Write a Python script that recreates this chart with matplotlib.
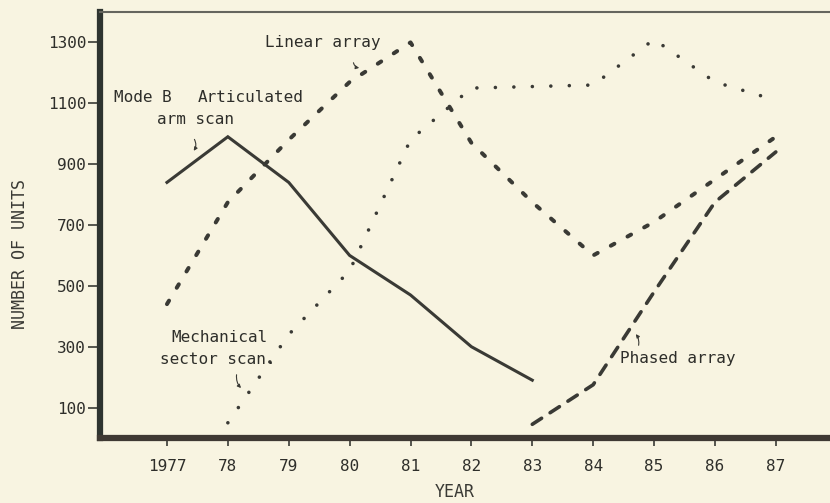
import matplotlib
matplotlib.use("Agg")
import matplotlib.pyplot as plt

# ---------------- data ----------------
years = [1977, 1978, 1979, 1980, 1981, 1982, 1983, 1984, 1985, 1986, 1987]
tick_labels = ["1977", "78", "79", "80", "81", "82", "83", "84", "85", "86", "87"]
y_ticks = [100, 300, 500, 700, 900, 1100, 1300]

modeb_years = [1977, 1978, 1979, 1980, 1981, 1982, 1983]
modeb_units = [840, 990, 840, 600, 470, 300, 190]

linear_years = [1977, 1978, 1979, 1980, 1981, 1982, 1983, 1984, 1985, 1986, 1987]
linear_units = [440, 775, 980, 1170, 1300, 970, 775, 600, 710, 850, 990]

mech_years = [1978, 1979, 1980, 1981, 1982, 1983, 1984, 1985, 1986, 1987]
mech_units = [50, 340, 550, 980, 1150, 1155, 1160, 1310, 1170, 1110]

phased_years = [1983, 1984, 1985, 1986, 1987]
phased_units = [45, 175, 480, 775, 940]

# ---------------- style ----------------
plt.rcParams["lines.scale_dashes"] = False
FONT = "DejaVu Sans Mono"
bg = "#f8f4e1"
ink = "#3a3a35"

W, H = 830, 503
fig = plt.figure(figsize=(W / 100, H / 100), dpi=100)
fig.patch.set_facecolor(bg)
ax = fig.add_axes([100 / W, 65 / H, 730 / W, 426 / H])
ax.set_facecolor(bg)
ax.set_xlim(1975.9, 1987.89)
ax.set_ylim(0, 1400)

ax.plot(modeb_years, modeb_units, color=ink, lw=2.2, solid_joinstyle="miter")
ax.plot(linear_years, linear_units, color=ink, lw=2.9,
        linestyle=(0, (2.9, 10.8)), dash_capstyle="round")
ax.plot(mech_years, mech_units, color=ink, lw=2.6,
        linestyle=(0, (0.01, 13.3)), dash_capstyle="round")
ax.plot(phased_years, phased_units, color=ink, lw=2.6,
        linestyle=(0, (8.0, 7.3)), dash_capstyle="round")

# ticks
ax.set_xticks(years)
ax.set_xticklabels(tick_labels, fontfamily=FONT, fontsize=11.5, color="#2e2e2a")
ax.set_yticks(y_ticks)
ax.set_yticklabels([str(v) for v in y_ticks], fontfamily=FONT, fontsize=11.5,
                   color="#2e2e2a")
ax.tick_params(axis="y", direction="out", length=9, width=1.2, pad=1, colors=ink,
               labelcolor="#2e2e2a")
ax.tick_params(axis="x", direction="out", length=6, width=1.2, pad=9, colors=ink,
               labelcolor="#2e2e2a")

ax.spines["right"].set_visible(False)
ax.spines["top"].set_linewidth(1.5)
ax.spines["top"].set_color("#65655e")
ax.spines["left"].set_linewidth(4.5)
ax.spines["left"].set_color("#2f3430")
ax.spines["bottom"].set_linewidth(4.5)
ax.spines["bottom"].set_color("#3f3933")

# axis labels
fig.text(20 / W, 1 - 254 / H, "NUMBER OF UNITS", rotation=90, ha="center",
         va="center", fontfamily=FONT, fontsize=12, color="#3a3a35")
fig.text(455 / W, 1 - 492 / H, "YEAR", ha="center", va="center",
         fontfamily=FONT, fontsize=12, color="#3a3a35")


def fp(x, y):
    return (x, H - y)


def label(text, x, y, ha="left"):
    ax.annotate(text, xy=fp(x, y), xycoords="figure pixels", ha=ha, va="center",
                fontfamily=FONT, fontsize=11.5, color="#2e2e2a")


def pointer(x0, y0, x1, y1, rad=0.3):
    ax.annotate("", xy=fp(x1, y1), xycoords="figure pixels",
                xytext=fp(x0, y0), textcoords="figure pixels",
                arrowprops=dict(arrowstyle="-|>", color=ink, lw=0.8,
                                mutation_scale=5,
                                connectionstyle=f"arc3,rad={rad}"))


label("Linear array", 265, 43)
pointer(353, 60, 362, 68, rad=0.5)
label("Mode B", 114, 98)
label("Articulated", 198, 98)
label("arm scan", 157, 119)
pointer(193, 137, 192, 153, rad=-0.4)
label("Mechanical", 171, 338)
label("sector scan.", 160, 360)
pointer(237, 372, 243, 390, rad=0.3)
label("Phased array", 620, 359)
pointer(638, 348, 634, 332, rad=0.3)

fig.savefig("out.png", dpi=100, facecolor=bg)
